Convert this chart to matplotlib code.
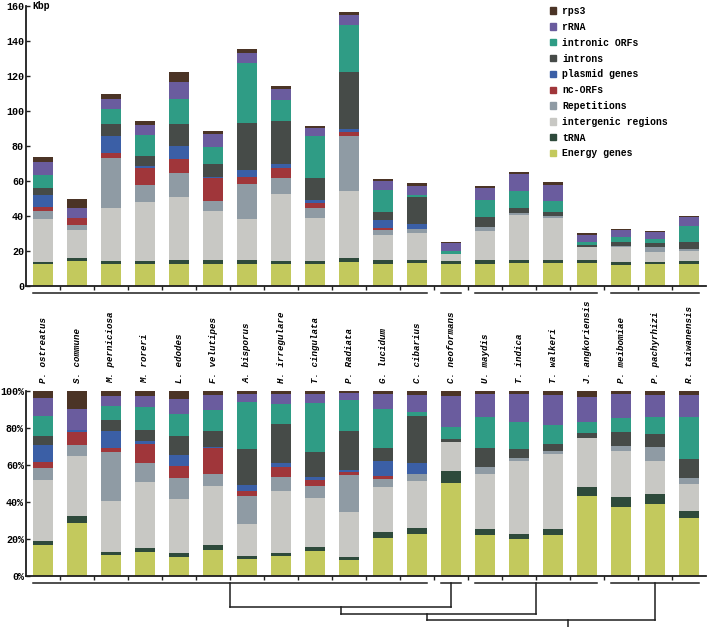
import matplotlib
matplotlib.use('Agg')
import matplotlib.pyplot as plt
import numpy as np
from matplotlib.patches import Patch

plt.rcParams['font.family'] = ['Liberation Mono', 'DejaVu Sans Mono']
plt.rcParams['font.weight'] = 'bold'

species = ['P. ostreatus', 'S. commune', 'M. perniciosa', 'M. roreri', 'L. edodes',
           'F. velutipes', 'A. bisporus', 'H. irregulare', 'T. cingulata', 'P. Radiata',
           'G. lucidum', 'C. cibarius', 'C. neoformans', 'U. maydis', 'T. indica',
           'T. walkeri', 'J. angkoriensis', 'P. meibomiae', 'P. pachyrhizi', 'R. taiwanensis']

# Kbp per category, one value per species (stack order bottom -> top)
energy     = [12.4, 14.2, 12.4, 12.4, 12.6, 12.6, 12.4, 12.4, 12.4, 13.5, 12.6, 13.2, 12.6, 12.8, 12.9, 13.0, 13.0, 12.2, 12.3, 12.5]
trna       = [1.5, 1.9, 1.9, 1.9, 2.3, 2.3, 2.5, 1.9, 1.9, 2.3, 2.0, 1.9, 1.55, 1.8, 1.8, 1.9, 1.6, 1.75, 1.7, 1.6]
intergenic = [24.4, 16.0, 30.1, 33.5, 35.8, 28.1, 23.2, 38.1, 24.4, 38.5, 14.6, 15.0, 3.9, 16.8, 26.0, 24.2, 7.9, 8.1, 5.7, 5.7]
repetition = [4.7, 3.0, 28.9, 9.9, 14.1, 5.8, 20.2, 9.1, 5.7, 31.6, 2.7, 2.2, 0.0, 2.1, 1.1, 0.9, 0.0, 0.9, 2.4, 1.3]
nc_orfs    = [2.3, 3.5, 2.5, 9.5, 7.6, 12.7, 3.8, 6.1, 2.8, 2.3, 1.0, 0.0, 0.0, 0.0, 0.0, 0.0, 0.0, 0.0, 0.0, 0.0]
plasmid    = [6.7, 0.5, 10.1, 1.6, 7.6, 0.6, 4.2, 2.1, 1.9, 1.3, 5.0, 3.4, 0.0, 0.0, 0.0, 0.0, 0.0, 0.0, 0.0, 0.0]
introns    = [3.8, 0.0, 6.7, 5.5, 12.4, 7.6, 26.7, 24.6, 12.4, 33.0, 4.4, 15.1, 0.4, 6.0, 2.9, 2.4, 0.8, 2.3, 2.2, 4.3]
intr_orfs  = [7.6, 0.0, 8.4, 12.0, 14.5, 9.9, 34.6, 12.0, 24.2, 26.6, 12.7, 1.3, 1.7, 9.7, 9.7, 5.9, 1.8, 2.6, 2.8, 9.0]
rrna       = [7.3, 5.6, 5.9, 5.7, 9.9, 7.3, 5.7, 6.1, 4.4, 5.8, 4.9, 5.3, 4.14, 6.9, 9.7, 9.5, 4.2, 4.1, 3.9, 4.8]
rps3       = [2.8, 4.8, 2.8, 2.3, 5.3, 1.9, 2.1, 2.1, 1.3, 1.9, 1.0, 1.3, 0.67, 1.0, 1.2, 1.4, 0.9, 0.6, 0.6, 0.8]

categories = ['Energy genes', 'tRNA', 'intergenic regions', 'Repetitions', 'nc-ORFs',
              'plasmid genes', 'introns', 'intronic ORFs', 'rRNA', 'rps3']
colors = ['#c3c95d', '#2e4a3b', '#c8c8c4', '#8f9ba4', '#a0363a',
          '#3b5fa6', '#464b48', '#2f9c85', '#6a5c9e', '#4b3426']
series = [energy, trna, intergenic, repetition, nc_orfs, plasmid, introns, intr_orfs, rrna, rps3]

# clades (first, last species index) and the tree joining them
groups = [(0, 11), (12, 12), (13, 16), (17, 19)]
group_line_y = -3.8
merges = [(-16.8, 0.5), (-20.5, 0.44), (-23.8, 0.62)]   # level, stem position between the two children

data = np.array(series)
totals = data.sum(axis=0)
perc = data / totals * 100
x = np.arange(len(species))
w = 0.56
lc = '#1e1e1e'

fig = plt.figure(figsize=(7.07, 6.27), dpi=100)
ax1 = fig.add_axes([26/707, 1-286/627, 680/707, 280/627])
ax2 = fig.add_axes([26/707, 1-576/627, 680/707, 185/627])

for ax, vals in ((ax1, data), (ax2, perc)):
    bottom = np.zeros(len(species))
    for k in range(len(categories)):
        ax.bar(x, vals[k], w, bottom=bottom, color=colors[k], label=categories[k], linewidth=0)
        bottom += vals[k]
    ax.set_xlim(-0.5, 19.5)
    ax.set_xticks(np.arange(0.5, 19.5, 1))
    ax.set_xticklabels([])
    for s in ('top', 'right'):
        ax.spines[s].set_visible(False)
    for s in ('left', 'bottom'):
        ax.spines[s].set_linewidth(1.3)
        ax.spines[s].set_color(lc)
    ax.tick_params(axis='x', direction='out', length=3, width=1, color=lc)
    ax.tick_params(axis='y', direction='in', length=3, width=1, color=lc, labelsize=7.2, pad=1.5)

ax1.set_ylim(0, 160)
ax1.set_yticks(range(0, 161, 20))
ax1.text(-0.32, 160, 'Kbp', fontsize=7, va='center', ha='left')

ax2.set_ylim(0, 100)
ax2.set_yticks(range(0, 101, 20))
ax2.set_yticklabels(['%d%%' % v for v in range(0, 101, 20)])

for i, name in enumerate(species):
    ax2.text(i, 104.3, name, rotation=90, ha='center', va='bottom', fontsize=6.6,
             style='italic', clip_on=False)

# group lines under both charts
for a, b in groups:
    ax1.plot([a - 0.29, b + 0.29], [-4.0, -4.0], color=lc, lw=1.1, clip_on=False)
    ax2.plot([a - 0.29, b + 0.29], [group_line_y]*2, color=lc, lw=1.1, clip_on=False)

# dendrogram
centers = [(a + b) / 2 for a, b in groups]
node_x, node_y = centers[0], group_line_y
for j, (lev, frac) in enumerate(merges):
    rx = centers[j + 1]
    ax2.plot([node_x, node_x], [node_y, lev], color=lc, lw=1.1, clip_on=False)
    ax2.plot([rx, rx], [group_line_y, lev], color=lc, lw=1.1, clip_on=False)
    ax2.plot([node_x, rx], [lev, lev], color=lc, lw=1.1, clip_on=False)
    node_x, node_y = node_x + frac * (rx - node_x), lev
ax2.plot([node_x, node_x], [node_y, -32], color=lc, lw=1.1, clip_on=False)

handles = [Patch(color=colors[k], label=categories[k]) for k in range(len(categories))][::-1]
leg = ax1.legend(handles=handles, loc='upper left', bbox_to_anchor=(550/707, 1 - 6/627),
                 bbox_transform=fig.transFigure, frameon=False, fontsize=7,
                 handlelength=0.65, handleheight=0.65, handletextpad=0.6,
                 labelspacing=0.6, borderpad=0, borderaxespad=0)

fig.savefig('out.png', dpi=100)
